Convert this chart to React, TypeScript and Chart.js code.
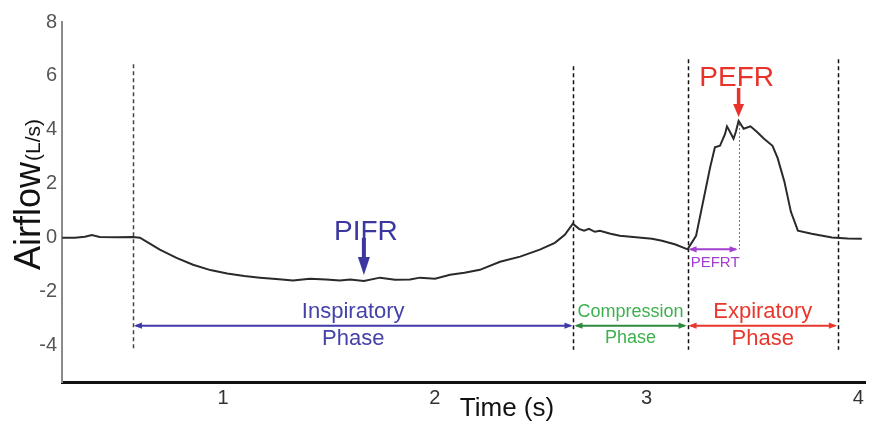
import React, { useEffect, useRef } from "react";
import { Chart, registerables } from "chart.js";

Chart.register(...registerables);

// ---- data (time in s, airflow in L/s) ----
const timeS = [
  0.24, 0.30, 0.347, 0.38, 0.417, 0.50, 0.574, 0.607, 0.65, 0.701,
  0.78, 0.858, 0.94, 1.019, 1.10, 1.174, 1.25, 1.330, 1.410, 1.486,
  1.552, 1.60, 1.665, 1.741, 1.812, 1.883, 1.930, 2.001, 2.072, 2.14,
  2.213, 2.308, 2.403, 2.496, 2.567, 2.614, 2.652, 2.681, 2.705, 2.728,
  2.756, 2.780, 2.83, 2.874, 2.95, 3.026, 3.073, 3.137, 3.194, 3.234,
  3.267, 3.300, 3.323, 3.347, 3.371, 3.380, 3.394, 3.411, 3.422, 3.435,
  3.459, 3.491, 3.521, 3.555, 3.595, 3.619, 3.651, 3.682, 3.715, 3.780,
  3.876, 3.95, 4.017,
];
const airflowLs = [
  0.0, 0.0, 0.04, 0.1, 0.03, 0.02, 0.03, 0.0, -0.2, -0.44,
  -0.75, -1.0, -1.2, -1.33, -1.42, -1.48, -1.53, -1.59, -1.52, -1.55,
  -1.59, -1.55, -1.6, -1.48, -1.56, -1.55, -1.48, -1.52, -1.37, -1.3,
  -1.19, -0.89, -0.7, -0.44, -0.19, 0.11, 0.52, 0.33, 0.26, 0.33,
  0.22, 0.26, 0.15, 0.07, 0.02, -0.04, -0.11, -0.25, -0.43, 0.07,
  1.33, 2.59, 3.35, 3.41, 3.85, 4.13, 3.93, 3.67, 3.93, 4.33,
  4.04, 4.13, 3.93, 3.67, 3.41, 2.96, 2.09, 0.96, 0.26, 0.15,
  0.01, -0.03, -0.04,
];

const xTickValues = [1, 2, 3, 4];
const yTickValues = [-4, -2, 0, 2, 4, 6, 8];

// phase boundaries (s) and the airflow level where each dashed line starts
const phaseBoundsS = [0.574, 2.655, 3.194, 3.904];
const phaseBoundTopsLs = [6.43, 6.36, 6.62, 6.62];
const phaseBoundColors = ["#444", "#111", "#111", "#111"];
const phaseBoundBottomLs = -4.15;
const phaseArrowLs = -3.26;
const phaseLabels = [
  ["Inspiratory", "Phase"],
  ["Compression", "Phase"],
  ["Expiratory", "Phase"],
];
const phaseLabelLs = [
  [-2.98, -3.98],
  [-2.94, -3.9],
  [-2.98, -3.98],
];
const phaseTextColors = ["#4542a8", "#3db14d", "#e8372d"];
const phaseArrowColors = ["#3f3aa8", "#2f8a3f", "#e8372d"];
const phaseFontSizes = [22, 18, 22];

const pifrPoint = { t: 1.665, v: -1.6 };
const pefrPoint = { t: 3.435, v: 4.33 };
const pefrtArrowLs = -0.43;
const pefrtLabelLs = -1.09;

const FONT = '"Liberation Sans", Arial, Helvetica, sans-serif';

function doubleArrow(ctx: CanvasRenderingContext2D, x1: number, x2: number, y: number, color: string) {
  const hl = 8;
  const hw = 3.2;
  ctx.save();
  ctx.strokeStyle = color;
  ctx.fillStyle = color;
  ctx.lineWidth = 2;
  ctx.setLineDash([]);
  ctx.beginPath();
  ctx.moveTo(x1 + 3, y);
  ctx.lineTo(x2 - 3, y);
  ctx.stroke();
  ctx.beginPath();
  ctx.moveTo(x1 + 1, y);
  ctx.lineTo(x1 + 1 + hl, y - hw);
  ctx.lineTo(x1 + 1 + hl, y + hw);
  ctx.closePath();
  ctx.fill();
  ctx.beginPath();
  ctx.moveTo(x2 - 1, y);
  ctx.lineTo(x2 - 1 - hl, y - hw);
  ctx.lineTo(x2 - 1 - hl, y + hw);
  ctx.closePath();
  ctx.fill();
  ctx.restore();
}

function downArrow(ctx: CanvasRenderingContext2D, x: number, top: number, tip: number, headLen: number, headHalf: number, shaftW: number, color: string) {
  ctx.save();
  ctx.fillStyle = color;
  ctx.fillRect(x - shaftW / 2, top, shaftW, tip - headLen - top + 1);
  ctx.beginPath();
  ctx.moveTo(x - headHalf, tip - headLen);
  ctx.lineTo(x + headHalf, tip - headLen);
  ctx.lineTo(x, tip);
  ctx.closePath();
  ctx.fill();
  ctx.restore();
}

const overlayPlugin = {
  id: "overlay",
  beforeDatasetsDraw(chart: any) {
    const { ctx, scales } = chart;
    const x = scales.x;
    const y = scales.y;
    ctx.save();
    ctx.lineWidth = 1.5;
    ctx.setLineDash([4, 3]);
    phaseBoundsS.forEach((t, i) => {
      const px = Math.round(x.getPixelForValue(t)) + 0.5;
      ctx.strokeStyle = phaseBoundColors[i];
      ctx.beginPath();
      ctx.moveTo(px, y.getPixelForValue(phaseBoundTopsLs[i]));
      ctx.lineTo(px, y.getPixelForValue(phaseBoundBottomLs));
      ctx.stroke();
    });
    // PEFRT dotted guide
    ctx.strokeStyle = "#777";
    ctx.lineWidth = 1;
    ctx.setLineDash([2, 2]);
    const pe = Math.round(x.getPixelForValue(pefrPoint.t)) + 0.5;
    ctx.beginPath();
    ctx.moveTo(pe, y.getPixelForValue(pefrPoint.v) + 3);
    ctx.lineTo(pe, y.getPixelForValue(pefrtArrowLs));
    ctx.stroke();
    ctx.restore();
  },
  afterDatasetsDraw(chart: any) {
    const { ctx, scales } = chart;
    const x = scales.x;
    const y = scales.y;
    ctx.save();
    // phase arrows and labels
    const ay = y.getPixelForValue(phaseArrowLs);
    for (let i = 0; i < 3; i++) {
      const x1 = x.getPixelForValue(phaseBoundsS[i]);
      const x2 = x.getPixelForValue(phaseBoundsS[i + 1]);
      doubleArrow(ctx, x1, x2, ay, phaseArrowColors[i]);
      const cx = (x1 + x2) / 2;
      ctx.fillStyle = phaseTextColors[i];
      ctx.font = `${phaseFontSizes[i]}px ${FONT}`;
      ctx.textAlign = "center";
      ctx.textBaseline = "alphabetic";
      ctx.fillText(phaseLabels[i][0], cx, y.getPixelForValue(phaseLabelLs[i][0]));
      ctx.fillText(phaseLabels[i][1], cx, y.getPixelForValue(phaseLabelLs[i][1]));
    }
    // PEFRT arrow
    const p1 = x.getPixelForValue(phaseBoundsS[2]);
    const p2 = x.getPixelForValue(pefrPoint.t);
    doubleArrow(ctx, p1, p2, y.getPixelForValue(pefrtArrowLs), "#a23fd0");
    ctx.fillStyle = "#a23fd0";
    ctx.font = `15px ${FONT}`;
    ctx.textAlign = "center";
    ctx.fillText("PEFRT", (p1 + p2) / 2 + 2, y.getPixelForValue(pefrtLabelLs));

    // PIFR
    const ix = x.getPixelForValue(pifrPoint.t);
    const iy = y.getPixelForValue(pifrPoint.v);
    downArrow(ctx, ix, iy - 43, iy - 6, 18, 6, 4, "#3b36a0");
    ctx.fillStyle = "#3b36a0";
    ctx.font = `28px ${FONT}`;
    ctx.textAlign = "center";
    ctx.fillText("PIFR", ix + 2, iy - 41);

    // PEFR
    const ex = x.getPixelForValue(pefrPoint.t);
    const ey = y.getPixelForValue(pefrPoint.v);
    downArrow(ctx, ex, ey - 33, ey - 4, 13, 5.5, 3.5, "#e8332a");
    ctx.fillStyle = "#e8332a";
    ctx.font = `28px ${FONT}`;
    ctx.textAlign = "center";
    ctx.fillText("PEFR", ex - 2, ey - 35);
    ctx.restore();
  },
  afterDraw(chart: any) {
    const { ctx } = chart;
    ctx.save();
    // y title
    ctx.translate(40, 270);
    ctx.rotate(-Math.PI / 2);
    ctx.fillStyle = "#111";
    ctx.textAlign = "left";
    ctx.textBaseline = "alphabetic";
    ctx.font = `36px ${FONT}`;
    ctx.fillText("Airflow", 0, 0);
    const w = ctx.measureText("Airflow").width;
    ctx.font = `21px ${FONT}`;
    ctx.fillText("(L/s)", w + 1, 0);
    ctx.restore();
    ctx.save();
    ctx.fillStyle = "#111";
    ctx.font = `26px ${FONT}`;
    ctx.textAlign = "center";
    ctx.textBaseline = "alphabetic";
    ctx.fillText("Time (s)", 507, 416);
    ctx.restore();
  },
};

export default function App() {
  const ref = useRef<HTMLCanvasElement | null>(null);
  useEffect(() => {
    document.body.style.margin = "0";
    const canvas = ref.current;
    if (!canvas) return;
    const chart = new Chart(canvas, {
      type: "line",
      data: {
        datasets: [
          {
            data: timeS.map((t, i) => ({ x: t, y: airflowLs[i] })),
            borderColor: "#2a2a2a",
            borderWidth: 2,
            pointRadius: 0,
            tension: 0,
            fill: false,
          },
        ],
      },
      options: {
        responsive: false,
        animation: false,
        events: [],
        layout: { padding: { top: 22, right: 12, left: 0, bottom: 0 } },
        plugins: { legend: { display: false }, tooltip: { enabled: false } },
        scales: {
          x: {
            type: "linear",
            min: 0.239,
            max: 4.032,
            afterBuildTicks: (s: any) => {
              s.ticks = xTickValues.map((v) => ({ value: v }));
            },
            afterFit: (s: any) => {
              s.height = 43;
            },
            grid: { display: false, drawTicks: false },
            border: { display: true, color: "#111", width: 3 },
            ticks: {
              color: "#333",
              font: { size: 20, family: FONT },
              padding: 4,
              maxRotation: 0,
              callback: (v: any) => String(v),
            },
          },
          y: {
            type: "linear",
            min: -5.35,
            max: 8,
            afterBuildTicks: (s: any) => {
              s.ticks = yTickValues.map((v) => ({ value: v }));
            },
            afterFit: (s: any) => {
              s.width = 62;
            },
            grid: { display: false, drawTicks: false },
            border: { display: true, color: "#8a8a8a", width: 2 },
            ticks: {
              color: "#555",
              font: { size: 20, family: FONT },
              padding: 5,
              callback: (v: any) => String(v),
            },
          },
        },
      },
      plugins: [overlayPlugin],
    } as any);
    return () => chart.destroy();
  }, []);
  return (
    <div style={{ width: 877, height: 425, position: "relative", background: "#fff" }}>
      <canvas ref={ref} width={877} height={425} style={{ width: 877, height: 425, display: "block" }} />
    </div>
  );
}
